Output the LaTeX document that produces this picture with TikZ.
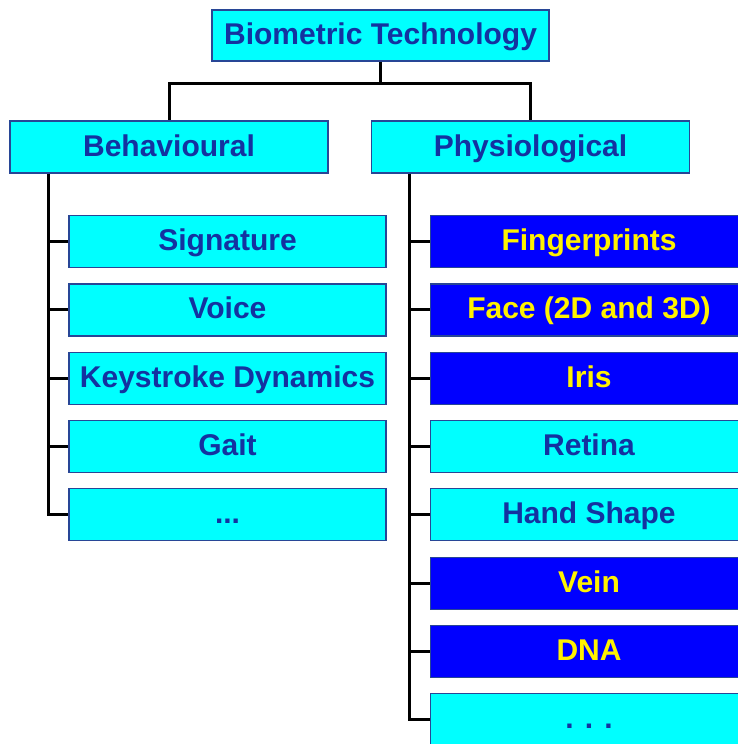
\documentclass[tikz,border=0pt]{standalone}
\usepackage{fontspec}
\setmainfont{Liberation Sans}
\usetikzlibrary{positioning}
\definecolor{boxcyan}{RGB}{0,255,255}
\definecolor{boxblue}{RGB}{0,0,255}
\definecolor{textblue}{RGB}{20,50,160}
\definecolor{edgeblue}{RGB}{40,70,150}

\begin{document}
\begin{tikzpicture}[
        x=0.5pt, y=-0.5pt,
        node distance=7.55pt,
        box/.style={rectangle, draw=edgeblue, line width=0.6pt, fill=boxcyan,
                    minimum width=158.5pt, minimum height=26pt, inner sep=2pt,
                    text height=11.5pt, text depth=2.5pt,
                    align=center, font=\fontsize{15}{18}\selectfont\bfseries,
                    text=textblue},
        dbox/.style={box, fill=boxblue, text=yellow},
        link/.style={line width=1.5pt, black},
    ]
    \clip (0,0) rectangle (738,744);

    % Wurzel
    \node[box, minimum width=168.5pt, minimum height=25.5pt] (biotech) at (380.5,35.5) {Biometric Technology};

    % zwei Hauptzweige
    \node[box, minimum width=159pt] (behav) at (169,147) {Behavioural};
    \node[box, minimum width=159pt] (physio) at (530.5,147) {Physiological};

    % Verhaltensmerkmale (links)
    \node[box, below right=20.7pt and 29.5pt of behav.south west] (sign) {Signature};
    \node[box, below=of sign] (voice) {Voice};
    \node[box, below=of voice] (keys) {Keystroke Dynamics};
    \node[box, below=of keys] (gait) {Gait};
    \node[box, below=of gait] (bmore) {...};

    % physiologische Merkmale (rechts)
    \node[dbox, below right=20.7pt and 29.5pt of physio.south west] (finger) {Fingerprints};
    \node[dbox, below=of finger] (face) {Face (2D and 3D)};
    \node[dbox, below=of face] (iris) {Iris};
    \node[box, below=of iris] (retina) {Retina};
    \node[box, below=of retina] (hand) {Hand Shape};
    \node[dbox, below=of hand] (vein) {Vein};
    \node[dbox, below=of vein] (dna) {DNA};
    \node[box, below=of dna] (pmore) {. . .};

    % Verbindungen oben
    \draw[link] (biotech.south) -- ++(0,-11pt) coordinate (split) -| (behav.north);
    \draw[link] (split) -| (physio.north);

    % linker Stamm
    \coordinate (btrunk) at ([xshift=19.5pt]behav.south west);
    \draw[link] (btrunk) |- (bmore.west);
    \draw[link] (sign.west) -- (sign.west -| btrunk);
    \draw[link] (voice.west) -- (voice.west -| btrunk);
    \draw[link] (keys.west) -- (keys.west -| btrunk);
    \draw[link] (gait.west) -- (gait.west -| btrunk);

    % rechter Stamm
    \coordinate (ptrunk) at ([xshift=19.5pt]physio.south west);
    \draw[link] (ptrunk) |- (pmore.west);
    \draw[link] (finger.west) -- (finger.west -| ptrunk);
    \draw[link] (face.west) -- (face.west -| ptrunk);
    \draw[link] (iris.west) -- (iris.west -| ptrunk);
    \draw[link] (retina.west) -- (retina.west -| ptrunk);
    \draw[link] (hand.west) -- (hand.west -| ptrunk);
    \draw[link] (vein.west) -- (vein.west -| ptrunk);
    \draw[link] (dna.west) -- (dna.west -| ptrunk);

\end{tikzpicture}
\end{document}
